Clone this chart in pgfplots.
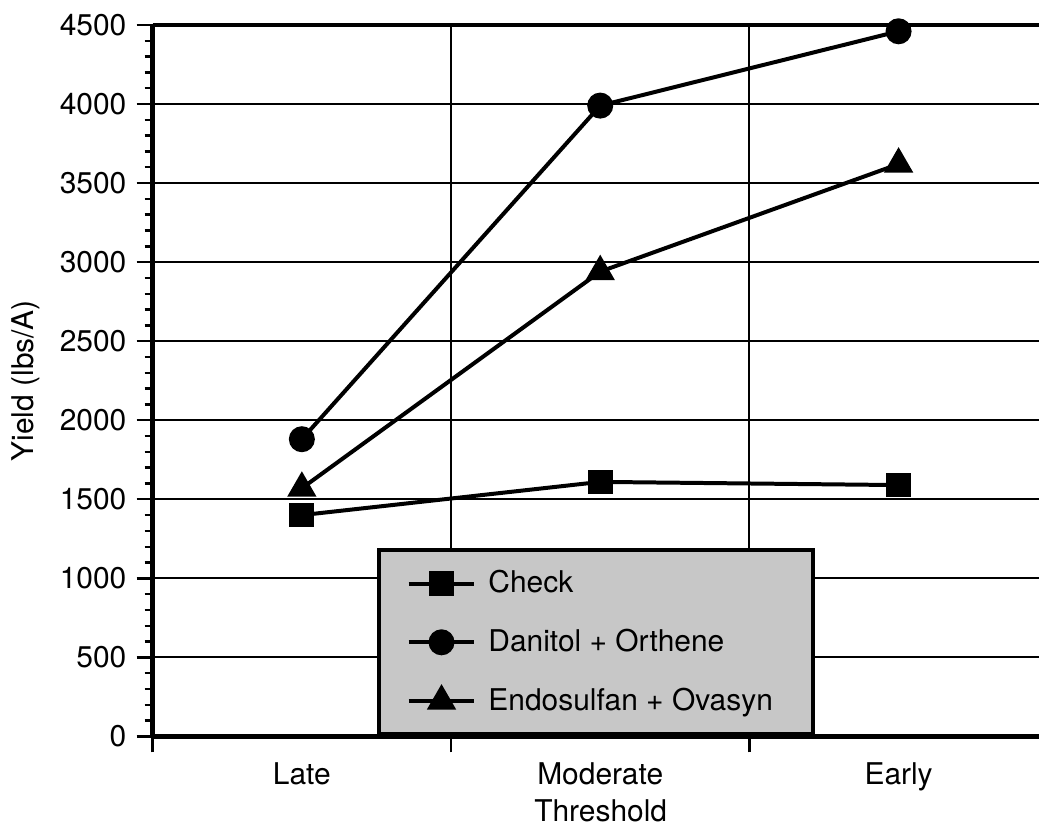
\documentclass[border=0pt]{standalone}
\usepackage{pgfplots}
\pgfplotsset{compat=1.18}
\usepackage{fontspec}
\setmainfont{TeX Gyre Heros}
\begin{document}
\fontsize{15pt}{18pt}\selectfont
\begin{tikzpicture}
\begin{axis}[
  scale only axis,
  width=444pt, height=356.5pt,
  xmin=0, xmax=2.97,
  ymin=0, ymax=4500,
  clip=false,
  axis x line*=bottom,
  axis y line*=left,
  axis line style={line width=2.2pt},
  xtick={0,1,2},
  xticklabels={},
  extra x ticks={0.5,1.5,2.5},
  extra x tick labels={Late,Moderate,Early},
  extra x tick style={major tick length=0pt, xmajorgrids=false, xticklabel style={yshift=-8pt}},
  ytick={0,500,...,4500},
  minor y tick num=4,
  tick align=outside,
  major tick length=8pt,
  minor tick length=4pt,
  tick style={line width=1.2pt, black},
  xmajorgrids, ymajorgrids,
  grid style={line width=1pt, black},
  /pgf/number format/assume math mode=true,
  /pgf/number format/1000 sep={},
  ticklabel style={font=\fontsize{15pt}{18pt}\selectfont},
  label style={font=\fontsize{15pt}{18pt}\selectfont},
  xlabel={Threshold},
  ylabel={Yield (lbs/A)},
  xlabel style={at={(0.5056,-0.1038)}, anchor=center},
  ylabel style={at={(-0.1430,0.5)}, anchor=center},
  legend image code/.code={\draw[mark repeat=2,mark phase=2,#1] plot coordinates {(0pt,0pt) (16.5pt,0pt) (33pt,0pt)};},
  legend style={at={(0.5,0)}, anchor=south, fill=black!22, draw=black, line width=2pt,
    font=\fontsize{15pt}{18pt}\selectfont, inner xsep=14pt, inner ysep=8pt, row sep=12pt,
    nodes={inner xsep=6pt}},
  legend cell align=left,
  every axis plot/.append style={line width=2pt, black},
]
\addplot[mark=square*, mark size=5.2pt, mark options={solid}] coordinates {(0.5,1400) (1.5,1610) (2.5,1590)};
\addlegendentry{Check}
\addplot[mark=*, mark size=5.5pt] coordinates {(0.5,1880) (1.5,3990) (2.5,4460)};
\addlegendentry{Danitol + Orthene}
\addplot[mark=triangle*, mark size=6.5pt] coordinates {(0.5,1570) (1.5,2940) (2.5,3620)};
\addlegendentry{Endosulfan + Ovasyn}
\draw[line width=2.2pt] (rel axis cs:0,1) -- (rel axis cs:1,1);
\path (rel axis cs:-0.1723,-0.1318) rectangle (rel axis cs:1,1.0351);
\end{axis}
\end{tikzpicture}
\end{document}
